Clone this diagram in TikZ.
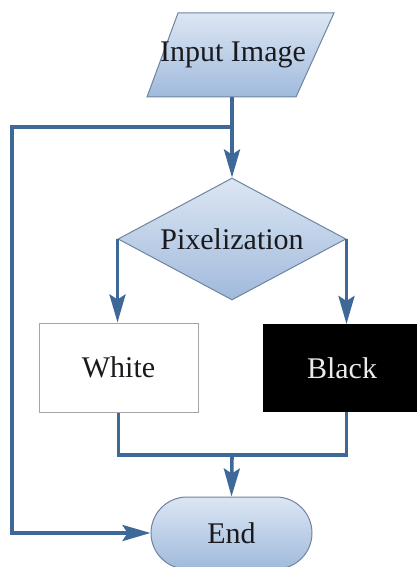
\documentclass[tikz,border=0pt]{standalone}
\usepackage{fontspec}
\setmainfont{Liberation Serif}
\usetikzlibrary{shapes.geometric,shapes.misc,arrows.meta}
\definecolor{linec}{RGB}{62,104,152}
\definecolor{edgec}{RGB}{110,132,160}
\definecolor{filltop}{RGB}{220,230,243}
\definecolor{fillbot}{RGB}{160,186,220}
\definecolor{txt}{RGB}{25,25,30}
\tikzset{
  flow/.style={draw=linec, line width=3.6pt},
  arr/.style={flow, -{Stealth[length=28pt,width=16pt,inset=5pt]}},
  blue fill/.style={draw=edgec, line width=1pt, top color=filltop, bottom color=fillbot},
  lbl/.style={text=txt, font=\fontsize{30}{34}\selectfont, inner sep=0pt},
  blue shape/.style={blue fill, lbl},
  plainbox/.style={draw=gray!70, line width=1pt, fill=white, lbl, minimum width=159pt, minimum height=89pt},
}
\begin{document}
\begin{tikzpicture}[x=1pt,y=-1pt]
\useasboundingbox (0,0) rectangle (416,567);
% input parallelogram
\path[blue fill] (178,13) -- (334,13) -- (296,97) -- (147,97) -- cycle;
\node[lbl] (in) at (233,55) {Input Image};
% other nodes
\node[blue shape, diamond, aspect=1.87, minimum width=228pt, minimum height=122pt] (dec) at (232,239) {Pixelization};
\node[plainbox] (white) at (118.5,367.5) {White};
\node[plainbox, fill=black, draw=black, text=white!92!black, minimum width=158pt, minimum height=87pt] (black) at (342,368) {Black};
\node[blue shape, rounded rectangle, minimum width=161pt, minimum height=72pt] (end) at (231.5,533) {End};
% coordinates
\coordinate (top) at (232,97);
\coordinate (lp) at (232,127);
\coordinate (lc) at (12,127);
\coordinate (j) at (232,455);
% connectors
\draw[flow] (top) -- (lp);
\draw[arr] (lp) -- (dec.north);
\draw[arr] (lp) -- (lc) |- (end.west);
\draw[arr] (dec.west) -- (dec.west |- white.north);
\draw[arr] (dec.east) -- (dec.east |- black.north);
\draw[flow] (white.south) |- (j) -| (dec.east |- black.south);
\draw[arr] (j) -- (end.north);
\end{tikzpicture}
\end{document}
